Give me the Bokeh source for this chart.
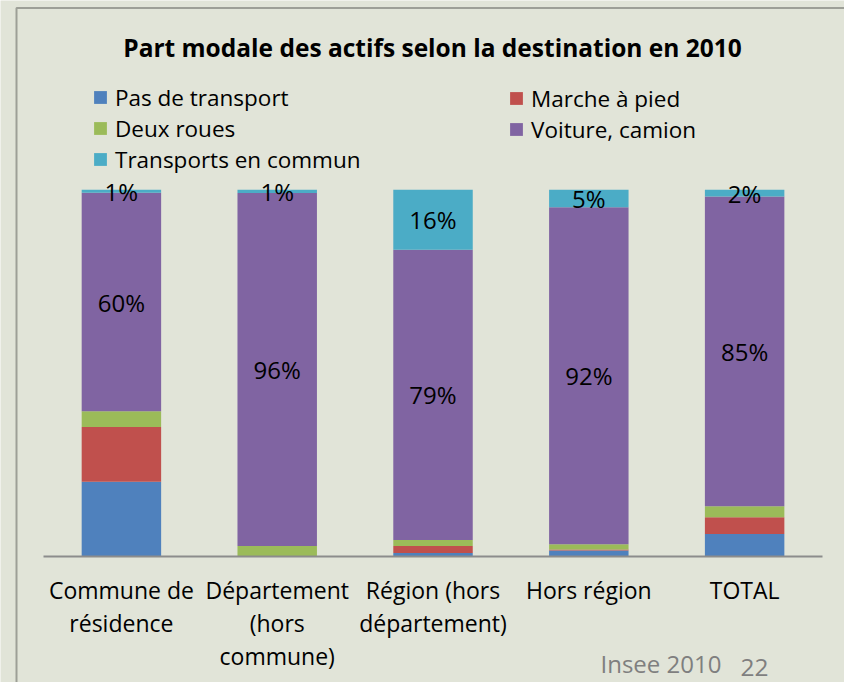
from bokeh.plotting import figure
from bokeh.models import (ColumnDataSource, Legend, LegendItem, Label,
                          BoxAnnotation, Range1d, FixedTicker)
from bokeh.embed import file_html
from bokeh.resources import INLINE
from bokeh.core.properties import value

# ---------------- data ----------------
categories = ["Commune de\nrésidence", "Département\n(hors\ncommune)",
              "Région (hors\ndépartement)", "Hors région", "TOTAL"]
series_names = ["Pas de transport", "Marche à pied", "Deux roues",
                "Voiture, camion", "Transports en commun"]
pas_de_transport = [20.3, 0.0, 0.8, 1.5, 6.0]
marche_a_pied = [14.9, 0.0, 1.9, 0.3, 4.6]
deux_roues = [4.3, 2.7, 1.7, 1.4, 3.0]
voiture_camion = [59.7, 96.4, 79.2, 92.0, 84.6]
transports_en_commun = [0.8, 0.9, 16.4, 4.8, 1.8]
colors = ["#4F81BD", "#C0504D", "#9BBB59", "#8064A2", "#4BACC6"]
title_text = "Part modale des actifs selon la destination en 2010"
source_text = "Insee 2010"
page_number = "22"

series = [pas_de_transport, marche_a_pied, deux_roues, voiture_camion,
          transports_en_commun]

BG = "#e1e4d8"
FONT = "Open Sans"
n = len(categories)
xpos = list(range(n))

p = figure(x_range=Range1d(-0.776, n - 0.5 + 0.141),
           y_range=Range1d(-34.54, 151.69),
           width=844, height=682, title=None,
           output_backend="svg", toolbar_location=None,
           min_border=0,
           background_fill_color=BG, border_fill_color=BG,
           outline_line_color=None)

data = {"x": xpos}
for name, vals in zip(series_names, series):
    data[name] = vals
src = ColumnDataSource(data)

renderers = p.vbar_stack(series_names, x="x", width=0.51, color=colors,
                         line_color=None, source=src)

# data labels for "Voiture, camion" and "Transports en commun"
lx, ly, lt = [], [], []
for i in range(n):
    base = pas_de_transport[i] + marche_a_pied[i] + deux_roues[i]
    lx.append(xpos[i])
    ly.append(base + voiture_camion[i] / 2)
    lt.append(f"{voiture_camion[i]:.0f}%")
    top = base + voiture_camion[i]
    lx.append(xpos[i])
    ly.append(top + transports_en_commun[i] / 2)
    lt.append(f"{transports_en_commun[i]:.0f}%")
lsrc = ColumnDataSource(dict(x=lx, y=ly, t=lt))
p.text(x="x", y="y", text="t", source=lsrc, text_align="center",
       text_baseline="middle", text_font=value(FONT),
       text_font_size="24px", text_color="black")

# axes / grids
p.yaxis.visible = False
p.xgrid.grid_line_color = None
p.ygrid.grid_line_color = None
ax = p.xaxis[0]
ax.fixed_location = 0
ax.bounds = (-0.5, n - 0.5)
ax.ticker = FixedTicker(ticks=xpos)
ax.major_label_overrides = {i: c for i, c in zip(xpos, categories)}
ax.axis_line_color = "#8c8c8c"
ax.axis_line_width = 2
ax.major_tick_line_color = None
ax.minor_tick_line_color = None
ax.major_label_text_font = FONT
ax.major_label_text_font_size = "23px"
ax.major_label_text_color = "black"
ax.major_label_standoff = 12
ax.major_label_text_line_height = 1.03

# legends (two columns)
def make_legend(idx, loc):
    leg = Legend(items=[LegendItem(label=series_names[i], renderers=[renderers[i]])
                        for i in idx],
                 location=loc, orientation="vertical",
                 label_text_font=FONT, label_text_font_size="22.5px",
                 label_text_color="black",
                 glyph_width=16, glyph_height=16, label_standoff=7,
                 label_height=30, spacing=0, padding=0, margin=0,
                 border_line_color=None, background_fill_alpha=0)
    p.add_layout(leg, "center")
    return leg

make_legend([0, 2, 4], (92, 507.5))
make_legend([1, 3], (508, 537.5))

# title and other texts
p.add_layout(Label(x=432, y=635, x_units="screen", y_units="screen",
                   text=title_text, text_align="center", text_baseline="middle",
                   text_font=FONT, text_font_style="bold", text_font_size="24.5px",
                   text_color="black"))
p.add_layout(Label(x=600, y=19.3, x_units="screen", y_units="screen",
                   text=source_text, text_align="left", text_baseline="middle",
                   text_font=FONT, text_font_size="24px", text_color="#7f7f7f"))
p.add_layout(Label(x=740, y=15, x_units="screen", y_units="screen",
                   text=page_number, text_align="left", text_baseline="middle",
                   text_font=FONT, text_font_size="24.5px", text_color="#7f7f7f"))

# slide box border (top & left lines)
p.add_layout(BoxAnnotation(left=16, right=3000, top=674.5, bottom=-3000,
                           left_units="screen", right_units="screen",
                           top_units="screen", bottom_units="screen",
                           fill_color=None, line_color="black", line_width=2))

open("out.html", "w").write(file_html(p, INLINE))
